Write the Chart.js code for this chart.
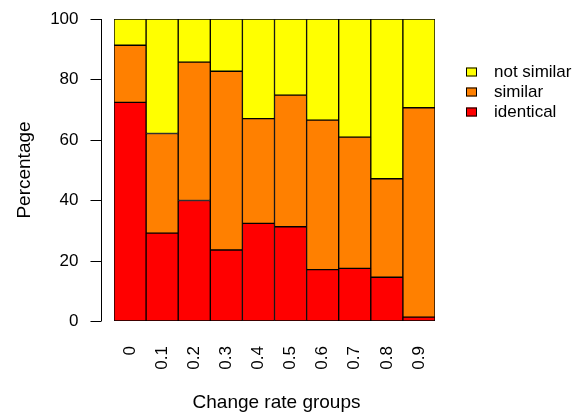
<!DOCTYPE html>
<html>
<head>
<meta charset="utf-8">
<script src="https://cdn.jsdelivr.net/npm/chart.js@4.4.1/dist/chart.umd.min.js"></script>
<style>
  body { margin: 0; background: #fff; }
  canvas { display: block; }
</style>
</head>
<body>
<canvas id="chart" width="577" height="415"></canvas>
<script>
const groups = ["0", "0.1", "0.2", "0.3", "0.4", "0.5", "0.6", "0.7", "0.8", "0.9"];
const identical = [72.4, 29.1, 39.9, 23.5, 32.3, 31.2, 17.0, 17.4, 14.5, 1.3];
const similar = [18.9, 33.0, 45.8, 59.2, 34.7, 43.6, 49.5, 43.5, 32.6, 69.3];
const notSimilar = [8.7, 37.9, 14.3, 17.3, 33.0, 25.2, 33.5, 39.1, 52.9, 29.4];
const yTicks = [0, 20, 40, 60, 80, 100];

const font = "Liberation Sans, Arial, Helvetica, sans-serif";

// R-style axes, labels and legend drawn on top of the chart
const rDecor = {
  id: "rDecor",
  afterDraw(chart) {
    const ctx = chart.ctx;
    const x = chart.scales.x;
    const y = chart.scales.y;
    const area = chart.chartArea;
    ctx.save();
    ctx.fillStyle = "#000";
    ctx.strokeStyle = "#000";
    ctx.lineWidth = 1;

    // y axis
    const ax = Math.round(area.left - 13) + 0.5;
    ctx.beginPath();
    ctx.moveTo(ax, y.getPixelForValue(0));
    ctx.lineTo(ax, y.getPixelForValue(100));
    ctx.stroke();
    ctx.font = "17px " + font;
    ctx.textAlign = "right";
    ctx.textBaseline = "middle";
    yTicks.forEach(v => {
      const py = Math.round(y.getPixelForValue(v)) + 0.5;
      ctx.beginPath();
      ctx.moveTo(ax, py);
      ctx.lineTo(ax - 11, py);
      ctx.stroke();
      ctx.fillText(String(v), ax - 23, py);
    });

    // x labels, rotated
    groups.forEach((g, i) => {
      ctx.save();
      ctx.translate(x.getPixelForValue(i), area.bottom + 25);
      ctx.rotate(-Math.PI / 2);
      ctx.textAlign = "right";
      ctx.textBaseline = "middle";
      ctx.fillText(g, 0, 0);
      ctx.restore();
    });

    // titles
    ctx.font = "19px " + font;
    ctx.textAlign = "center";
    ctx.textBaseline = "alphabetic";
    ctx.fillText("Change rate groups", (area.left + area.right) / 2 + 2, 408);
    ctx.save();
    ctx.translate(30, (area.top + area.bottom) / 2);
    ctx.rotate(-Math.PI / 2);
    ctx.fillText("Percentage", 0, 0);
    ctx.restore();

    // legend (reverse stack order)
    ctx.font = "17px " + font;
    ctx.textAlign = "left";
    ctx.textBaseline = "middle";
    const ds = chart.data.datasets.slice().reverse();
    ds.forEach((d, i) => {
      const cy = 72 + i * 20;
      ctx.fillStyle = d.backgroundColor;
      ctx.fillRect(466, cy - 4.5, 11, 9);
      ctx.strokeRect(466.5, cy - 4, 10, 8);
      ctx.fillStyle = "#000";
      ctx.fillText(d.label, 494, cy);
    });
    ctx.restore();
  }
};

new Chart(document.getElementById("chart"), {
  type: "bar",
  data: {
    labels: groups,
    datasets: [
      { label: "identical", data: identical, backgroundColor: "#FF0000" },
      { label: "similar", data: similar, backgroundColor: "#FF8000" },
      { label: "not similar", data: notSimilar, backgroundColor: "#FFFF00" }
    ].map(d => Object.assign(d, {
      borderColor: "#000",
      borderWidth: 1,
      borderSkipped: false,
      categoryPercentage: 1,
      barPercentage: 1
    }))
  },
  options: {
    responsive: false,
    animation: false,
    layout: { padding: { left: 114, right: 142, top: 19, bottom: 94 } },
    plugins: { legend: { display: false }, tooltip: { enabled: false } },
    scales: {
      x: { stacked: true, display: false },
      y: { stacked: true, display: false, min: 0, max: 100 }
    }
  },
  plugins: [rDecor]
});
</script>
</body>
</html>
